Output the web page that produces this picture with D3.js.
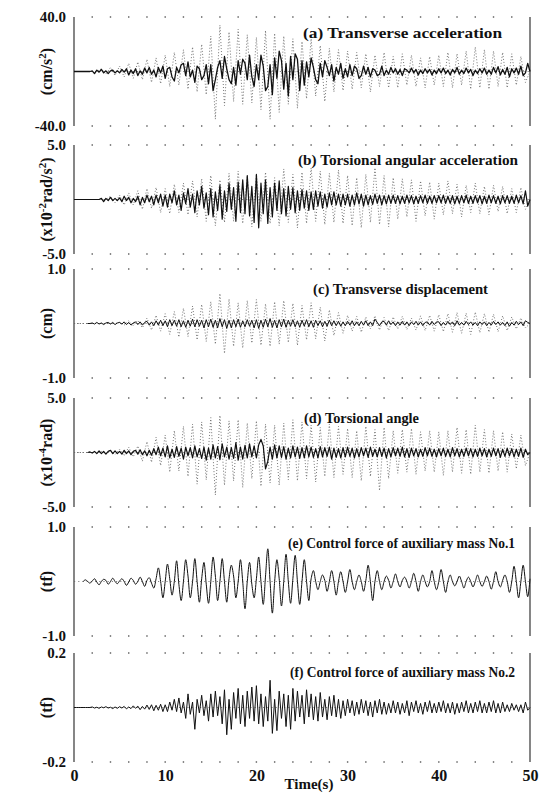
<!DOCTYPE html>
<html>
<head>
<meta charset="utf-8">
<script src="https://cdnjs.cloudflare.com/ajax/libs/d3/7.8.5/d3.min.js"></script>
<style>
body { margin: 0; background: #fff; }
svg text { font-family: "Liberation Serif", "DejaVu Serif", serif; font-weight: bold; fill: #111; }
</style>
</head>
<body>
<div id="chart"></div>
<script>
const SOLID_DT = 0.25;
const DOT_DT = 0.5;

const timeTicks = [0, 10, 20, 30, 40, 50];

// (a) transverse acceleration, cm/s^2 (solid = controlled, dotted = uncontrolled)
const aSolid = [
  0,0,0,0,0,0,0,0,0.5,-1.5,1,-0.5,1.5,-1,0.5,-1.5,0.5,1,-1,0.5,
  -1,1.5,-0.5,2,-2.5,1,-1.5,2,-3,0.5,-2,2.5,-1,3,-2,1,-4,3,-1,4,
  -5,2,3,-4,-7,3,-1,5,6,-3,7,-4,1,-8,4,2,-6,-3,5,-9,
  5,-14,-6,3,8,-5,11,2,-6,-9,3,-10,8,-2,9,6,-6,12,-4,-11,
  5,-6,12,4,-14,-11,5,-17,10,-5,15,8,-13,6,-18,11,-6,13,9,-14,
  8,-10,7,-4,10,3,-6,-9,6,-4,8,3,-3,5,-7,3,-2,6,-5,2,
  -4,5,-3,4,2,-5,-3,4,-2,3,-4,2,1,-3,-2,4,-3,1,-2,3,
  -1,2,-2,1.5,-3,2,1,-1,2.5,-1,1.5,-2.5,1,-1.5,2,-1,1.5,-2.5,1,-1.5,
  2,-1,2.5,-1.5,1,-2.5,1.5,-1,3,-2,1,-1.5,2.5,-1,1.5,-3,1,-1.5,2,-1,
  2.5,-2,1,-2,3,-1,3.5,-2.5,1.5,-2,3,-4,2,-1,2.5,-2,4,-3,-1,6,
  0
];
const aDot = [
  0,0,0,0,0,0,2,-2,3,-3,
  4,-4,6,-5,7,-6,9,-8,10,-9,
  12,-11,14,-10,16,-13,18,-15,20,-17,
  26,-35,34,-25,29,-22,31,-24,27,-23,
  25,-28,30,-35,28,-30,26,-24,24,-27,
  22,-20,24,-18,19,-22,17,-15,16,-14,
  15,-13,14,-12,13,-15,12,-11,14,-12,
  11,-12,13,-10,12,-11,10,-12,11,-10,
  12,-11,14,-12,13,-10,15,-13,18,-12,
  16,-13,15,-11,14,-12,13,-10,11,-8,
  0
];

// (b) torsional angular acceleration, x10^-2 rad/s^2
const bSolid = [
  0,0,0,0,0,0,0,0,0,0,0,0,0.1,-0.2,0.1,-0.1,0.2,-0.1,0.1,-0.1,
  0.15,-0.2,0.3,-0.1,0.2,-0.3,0.1,-0.2,0.3,-0.5,0.2,-0.3,0.4,-0.2,0.3,-0.5,0.4,-0.3,0.5,-0.6,
  0.4,-0.7,0.5,-0.3,0.8,-0.5,0.4,-1.0,0.6,-0.4,1.0,-0.7,0.5,-1.2,0.8,-0.5,1.2,-0.8,0.6,-1.4,
  1.0,-1.6,0.7,-1.0,1.3,-1.8,0.8,-1.1,1.5,-0.9,1.1,-2.0,1.6,-1.2,1.8,-1.3,2.2,-1.5,1.2,-2.1,
  2.3,-2.6,1.5,-1.3,1.8,-2.2,1.1,-1.6,1.5,-1.0,1.7,-1.3,1.0,-1.5,1.2,-0.9,1.1,-1.2,0.8,-1.0,
  0.9,-0.8,0.8,-1.0,0.7,-0.9,0.8,-0.6,0.7,-0.8,0.5,-0.7,0.6,-0.5,0.7,-0.5,0.5,-0.6,0.5,-0.5,
  0.5,-0.6,0.4,-0.5,0.6,-0.4,0.5,-0.6,0.4,-0.5,0.35,-0.45,0.5,-0.35,0.4,-0.5,0.35,-0.4,0.4,-0.35,
  0.4,-0.35,0.35,-0.4,0.3,-0.35,0.4,-0.3,0.35,-0.4,0.3,-0.35,0.35,-0.3,0.4,-0.35,0.3,-0.35,0.35,-0.3,
  0.35,-0.3,0.4,-0.35,0.3,-0.35,0.35,-0.4,0.3,-0.35,0.35,-0.3,0.4,-0.35,0.3,-0.35,0.35,-0.3,0.35,-0.4,
  0.3,-0.35,0.4,-0.3,0.35,-0.35,0.3,-0.4,0.35,-0.3,0.35,-0.35,0.3,-0.35,0.4,-0.3,0.35,-0.4,0.8,-0.6,
  0
];
const bDot = [
  0,0,0,0,0,0,0,0,0.3,-0.3,
  0.4,-0.5,0.6,-0.5,0.8,-0.9,1.0,-0.8,1.1,-1.2,
  1.0,-1.3,1.4,-1.2,1.5,-1.4,1.7,-1.6,1.9,-2.0,
  2.2,-2.4,1.8,-2.1,2.4,-2.0,2.6,-2.2,2.1,-2.5,
  2.3,-2.0,2.5,-2.2,2.0,-2.4,2.8,-2.1,2.3,-2.6,
  2.5,-2.2,2.9,-2.0,2.6,-2.3,2.4,-2.1,2.7,-2.2,
  2.2,-2.4,2.0,-2.6,2.3,-2.1,2.9,-2.3,2.2,-2.5,
  2.0,-1.8,1.9,-1.6,1.8,-2.0,1.7,-1.5,1.6,-1.8,
  1.5,-1.4,1.7,-1.3,1.4,-1.6,1.3,-1.2,1.5,-1.3,
  1.2,-1.4,1.3,-1.1,1.2,-1.3,1.0,-1.2,1.1,-0.9,
  0
];

// (c) transverse displacement, cm
const cSolid = [
  null,null,null,null,null,null,0,0,0.01,-0.01,0.02,-0.01,0.01,-0.02,0.01,0.02,-0.01,0.02,-0.02,0.01,
  0.02,-0.01,0.03,-0.02,0.02,-0.03,0.01,0.03,-0.02,0.03,-0.03,0.02,0.04,-0.03,0.03,-0.04,0.05,-0.03,0.06,-0.04,
  0.05,-0.06,0.07,-0.04,0.06,-0.05,0.07,-0.06,0.05,-0.07,0.06,-0.05,0.08,-0.06,0.07,-0.05,0.06,-0.08,0.07,-0.06,
  0.08,-0.07,0.06,-0.08,0.09,-0.06,0.07,-0.09,0.06,-0.08,0.07,-0.06,0.08,-0.07,0.05,-0.06,0.07,-0.05,0.06,-0.08,
  0.07,-0.09,0.06,-0.07,0.08,-0.06,0.09,-0.07,0.06,-0.08,0.07,-0.06,0.08,-0.07,0.06,-0.05,0.07,-0.06,0.05,-0.07,
  0.06,-0.05,0.07,-0.06,0.05,-0.07,0.06,-0.04,0.05,-0.06,0.04,-0.05,0.06,-0.04,0.05,-0.04,0.04,-0.05,0.03,-0.04,
  0.04,-0.03,0.05,-0.04,0.03,-0.04,0.04,-0.03,0.05,-0.04,0.03,-0.04,0.08,0.02,-0.04,0.03,0.04,-0.03,0.05,-0.02,
  0.03,-0.04,0.03,-0.03,0.04,-0.03,0.03,-0.04,0.03,-0.02,0.04,-0.03,0.03,-0.04,0.02,0.03,-0.03,0.04,-0.02,0.03,
  0.03,-0.04,0.02,-0.03,0.04,-0.02,0.03,-0.04,0.05,-0.03,0.02,-0.03,0.04,-0.02,0.03,-0.03,0.02,-0.04,0.03,-0.02,
  0.03,-0.04,0.02,-0.03,0.04,-0.02,0.03,-0.03,0.02,-0.04,0.03,-0.05,0.02,-0.03,0.04,-0.02,0.03,-0.04,0.05,0.02,
  0
];
const cDot = [
  0,0,0,0,0,0,0,0,0,0,
  0.02,-0.03,0.05,-0.04,0.06,-0.08,0.1,-0.12,0.15,-0.14,
  0.18,-0.2,0.22,-0.25,0.28,-0.24,0.32,-0.3,0.35,-0.33,
  0.4,-0.38,0.55,-0.55,0.45,-0.42,0.38,-0.45,0.42,-0.36,
  0.44,-0.4,0.36,-0.42,0.4,-0.38,0.42,-0.35,0.37,-0.4,
  0.33,-0.3,0.38,-0.28,0.3,-0.32,0.25,-0.22,0.2,-0.18,
  0.15,-0.14,0.13,-0.16,0.12,-0.1,0.14,-0.12,0.11,-0.13,
  0.12,-0.1,0.13,-0.11,0.1,-0.12,0.14,-0.13,0.15,-0.14,
  0.16,-0.15,0.18,-0.16,0.2,-0.18,0.19,-0.2,0.21,-0.17,
  0.18,-0.16,0.17,-0.15,0.14,-0.13,0.12,-0.1,0.1,-0.08,
  0
];

// (d) torsional angle, x10^-4 rad
const dSolid = [
  null,null,null,null,null,null,0,0.05,-0.05,0.1,-0.1,0.15,-0.1,0.1,-0.15,0.1,0.2,-0.1,0.15,-0.1,
  0.1,-0.15,0.2,-0.1,0.15,-0.2,0.1,0.2,-0.15,0.25,-0.2,0.15,-0.3,0.2,-0.25,0.35,-0.2,0.5,-0.3,0.4,
  -0.4,0.6,-0.5,0.3,-0.45,0.55,-0.35,0.4,-0.6,0.5,-0.3,0.45,-0.5,0.6,-0.4,0.35,-0.55,0.5,-0.7,0.4,
  -0.6,0.7,-0.5,0.55,-0.65,0.8,-0.4,0.5,-0.6,0.45,-0.55,0.9,-0.7,0.5,-0.6,0.65,-0.5,0.8,-0.4,0.6,
  -0.5,0.7,1.2,0.6,-1.5,-0.8,0.5,-0.6,0.7,-0.5,0.6,-0.45,0.55,-0.6,0.4,-0.5,0.6,-0.4,0.5,-0.55,
  0.45,-0.5,0.6,-0.4,0.5,-0.45,0.35,-0.5,0.55,-0.4,0.45,-0.35,0.5,-0.6,0.4,-0.45,0.35,-0.5,0.45,-0.4,
  0.5,-0.35,0.4,-0.5,0.35,-0.4,0.45,-0.3,0.4,-0.45,0.5,-0.35,0.3,-0.4,0.45,-0.35,0.4,-0.5,0.35,-0.4,
  0.45,-0.3,0.4,-0.35,0.5,-0.4,0.35,-0.45,0.4,-0.3,0.35,-0.4,0.3,-0.35,0.45,-0.3,0.4,-0.35,0.3,-0.4,
  0.35,-0.3,0.4,-0.35,0.3,-0.4,0.45,-0.3,0.35,-0.4,0.3,-0.35,0.4,-0.3,0.35,-0.4,0.3,-0.35,0.4,-0.3,
  0.35,-0.4,0.3,-0.35,0.4,-0.3,0.35,-0.45,0.3,-0.35,0.4,-0.3,0.35,-0.4,0.3,-0.35,0.4,-0.45,0.3,-0.2,
  0
];
const dDot = [
  0,0,0,0,0,0,0.1,-0.1,0.2,-0.2,
  0.3,-0.3,0.5,-0.4,0.6,-0.8,1.0,-0.9,1.4,-1.2,
  1.6,-1.8,2.0,-1.7,2.4,-2.2,2.6,-2.9,2.8,-2.5,
  3.2,-3.9,3.4,-3.0,2.9,-2.6,3.0,-3.2,2.7,-2.4,
  2.9,-3.1,2.6,-2.8,2.5,-3.0,2.7,-2.5,3.0,-2.6,
  2.8,-2.4,2.5,-2.7,2.3,-2.2,2.6,-2.3,2.4,-2.0,
  2.2,-2.3,2.0,-2.6,2.4,-2.2,2.1,-3.5,2.3,-2.4,
  2.0,-1.9,2.1,-1.8,2.2,-2.0,1.9,-1.7,2.0,-1.8,
  1.9,-2.1,2.0,-1.8,2.3,-1.9,2.1,-2.0,2.5,-1.8,
  2.1,-1.9,2.0,-1.7,1.9,-1.8,1.7,-1.5,1.6,-1.2,
  0
];

// (e) control force of auxiliary mass No.1, tf
const eSolid = [
  null,null,null,null,0,0.03,0,-0.03,0.01,0.05,-0.01,-0.06,0,0.04,0.02,-0.05,0,0.06,0,-0.04,
  0.01,0.05,0,-0.07,-0.01,0.06,0.02,-0.05,0,0.08,0,-0.09,0.02,0.07,-0.03,-0.12,0.05,0.25,0,-0.3,
  0,0.32,0.05,-0.25,0,0.38,-0.05,-0.35,0,0.4,0.1,-0.3,0,0.42,0,-0.38,0.05,0.35,-0.05,-0.4,
  0,0.45,0.1,-0.35,0,0.42,0,-0.38,0.05,0.3,0.1,-0.3,0,0.4,0,-0.5,0,0.35,-0.05,-0.3,
  0.05,0.45,0,-0.42,0.1,0.6,0,-0.58,0,0.4,0.05,-0.45,0,0.5,0,-0.4,0.05,0.48,0,-0.42,
  0,0.4,0,-0.35,0.05,0.2,0,-0.15,0,0.12,0.02,-0.18,0,0.2,0,-0.25,0,0.18,0,-0.2,
  0,0.22,0,-0.15,0,0.12,0,-0.18,0.02,0.3,0,-0.35,0,0.2,0,-0.15,0,0.1,0.02,-0.12,
  0,0.14,0,-0.1,0.02,0.08,0,-0.12,0,0.15,0,-0.18,0,0.12,0,-0.1,0,0.2,0,-0.15,
  0,0.22,0,-0.2,0,0.12,0,-0.08,0,0.1,0,-0.12,0,0.08,0,-0.1,0,0.12,0,-0.09,
  0,0.1,0,-0.14,0,0.18,0,-0.1,0.02,0.12,0,-0.2,0,0.28,0,-0.3,0,0.3,0,-0.28,
  0.05
];

// (f) control force of auxiliary mass No.2, tf
const fSolid = [
  0,0,0,0,0,0,0,0,0.002,-0.002,0.001,-0.003,0.002,-0.001,0.003,-0.002,0.001,-0.004,0.002,-0.003,
  0.003,-0.002,0.004,-0.005,0.002,-0.004,0.006,-0.003,0.005,-0.008,0.004,-0.006,0.009,-0.007,0.01,-0.012,0.008,-0.01,0.012,-0.015,
  0.01,-0.015,0.02,-0.01,0.03,-0.015,0.035,-0.02,0.02,-0.04,0.05,-0.025,0.02,-0.08,0.03,-0.02,0.045,-0.03,0.025,-0.05,
  0.05,-0.035,0.06,-0.03,0.04,-0.06,0.065,-0.1,0.03,-0.08,0.055,-0.04,0.07,-0.06,0.045,-0.07,0.06,-0.04,0.075,-0.05,
  0.08,-0.06,0.05,-0.07,0.04,-0.05,0.1,-0.095,0.03,-0.085,0.06,-0.04,0.05,-0.07,0.045,-0.08,0.07,-0.05,0.06,-0.035,
  0.045,-0.06,0.065,-0.035,0.05,-0.045,0.04,-0.05,0.055,-0.035,0.03,-0.045,0.04,-0.03,0.045,-0.035,0.03,-0.04,0.025,-0.03,
  0.03,-0.02,0.025,-0.03,0.02,-0.025,0.03,-0.02,0.025,-0.03,0.02,-0.035,0.025,-0.02,0.03,-0.025,0.02,-0.025,0.015,-0.02,
  0.025,-0.02,0.02,-0.025,0.015,-0.02,0.025,-0.03,0.02,-0.015,0.025,-0.02,0.015,-0.025,0.02,-0.015,0.025,-0.02,0.015,-0.02,
  0.02,-0.015,0.025,-0.02,0.015,-0.02,0.02,-0.025,0.015,-0.02,0.02,-0.015,0.025,-0.02,0.015,-0.02,0.02,-0.015,0.025,-0.02,
  0.015,-0.02,0.02,-0.015,0.025,-0.02,0.015,-0.02,0.02,-0.015,0.01,-0.015,0.015,-0.01,0.01,-0.015,0.01,-0.02,0.02,-0.01,
  0
];

const panelTitles = [
  "(a) Transverse acceleration",
  "(b) Torsional angular acceleration",
  "(c) Transverse displacement",
  "(d) Torsional angle",
  "(e) Control force of auxiliary mass No.1",
  "(f) Control force of auxiliary mass No.2"
];
// unit labels: [text, superscript?] pieces
const unitLabels = [
  [["(cm/s", false], ["2", true], [")", false]],
  [["(x10", false], ["-2", true], ["rad/s", false], ["2", true], [")", false]],
  [["(cm)", false]],
  [["(x10", false], ["-4", true], ["rad)", false]],
  [["(tf)", false]],
  [["(tf)", false]]
];
const yMax = [40, 5, 1, 5, 1, 0.2];
const yTickLabels = [["40.0", "-40.0"], ["5.0", "-5.0"], ["1.0", "-1.0"], ["5.0", "-5.0"], ["1.0", "-1.0"], ["0.2", "-0.2"]];
const solidSeries = [aSolid, bSolid, cSolid, dSolid, eSolid, fSolid];
const dottedSeries = [aDot, bDot, cDot, dDot, null, null];

// layout
const width = 540, height = 798;
const plotLeft = 74, plotRight = 530;
const panelTops = [17, 145, 269, 398, 527, 653];
const panelHeight = 109;
const titleX = [303, 298, 313, 304, 288, 290];
const titleLen = [199, 220, 175, 115, 227, 225];
const titleSize = [15.5, 14.5, 14, 14, 14, 14];
const titleDy = [21, 20, 25, 25, 21, 24];
const solidWidth = [1.3, 1.2, 1.0, 1.2, 1.0, 1.0];

const svg = d3.select("#chart").append("svg")
  .attr("width", width)
  .attr("height", height);

const x = d3.scaleLinear().domain([0, 50]).range([plotLeft, plotRight]);
const frameDots = d3.range(2, 50, 2);

function toPoints(values, dt) {
  return values.map((v, i) => ({t: i * dt, v: v}));
}

panelTitles.forEach((title, i) => {
  const top = panelTops[i];
  const bottom = top + panelHeight;
  const y = d3.scaleLinear().domain([-yMax[i], yMax[i]]).range([bottom, top]);
  const g = svg.append("g").attr("class", "panel");

  // frame: solid sides, dotted top and bottom
  [plotLeft, plotRight].forEach(px => {
    g.append("line")
      .attr("x1", px).attr("x2", px)
      .attr("y1", top).attr("y2", bottom)
      .attr("stroke", "#222").attr("stroke-width", 1.1);
  });
  [top, bottom].forEach(py => {
    g.selectAll(null).data(frameDots).enter().append("rect")
      .attr("x", d => x(d) - 0.7).attr("y", py - 0.7)
      .attr("width", 1.4).attr("height", 1.4)
      .attr("fill", "#555");
  });

  // zero reference
  g.append("line")
    .attr("x1", x(0)).attr("x2", x(50))
    .attr("y1", y(0)).attr("y2", y(0))
    .attr("stroke", "#666").attr("stroke-width", 0.8)
    .attr("stroke-dasharray", "1.2,3");

  const line = d3.line()
    .defined(d => d.v !== null)
    .x(d => x(d.t))
    .y(d => y(d.v));

  if (dottedSeries[i]) {
    g.append("path")
      .datum(toPoints(dottedSeries[i], DOT_DT))
      .attr("fill", "none")
      .attr("stroke", "#666")
      .attr("stroke-width", 0.9)
      .attr("stroke-dasharray", "1,2")
      .attr("d", line);
  }

  const solidLine = i === 4 ? line.curve(d3.curveCatmullRom) : line;
  g.append("path")
    .datum(toPoints(solidSeries[i], SOLID_DT))
    .attr("fill", "none")
    .attr("stroke", "#111")
    .attr("stroke-width", solidWidth[i])
    .attr("stroke-linejoin", "round")
    .attr("d", solidLine);

  // y limit labels
  g.append("text")
    .attr("x", plotLeft - 8).attr("y", top).attr("dy", "0.35em")
    .attr("text-anchor", "end").attr("font-size", 15)
    .text(yTickLabels[i][0]);
  g.append("text")
    .attr("x", plotLeft - 8).attr("y", bottom).attr("dy", "0.3em")
    .attr("text-anchor", "end").attr("font-size", 15)
    .text(yTickLabels[i][1]);

  // unit label
  const unit = g.append("text")
    .attr("transform", `translate(${46},${y(0)}) rotate(-90)`)
    .attr("text-anchor", "middle")
    .attr("dy", "0.35em")
    .attr("font-size", 16);
  unitLabels[i].forEach(([txt, sup]) => {
    unit.append("tspan")
      .attr("baseline-shift", sup ? "super" : null)
      .attr("font-size", sup ? 11 : null)
      .text(txt);
  });

  // panel title
  g.append("text")
    .attr("x", titleX[i]).attr("y", top + titleDy[i])
    .attr("font-size", titleSize[i])
    .attr("textLength", titleLen[i])
    .attr("lengthAdjust", "spacingAndGlyphs")
    .text(title);
});

// time axis under the last panel
const lastBottom = panelTops[5] + panelHeight;
const xAxis = svg.append("g")
  .attr("transform", `translate(0,${lastBottom})`)
  .call(d3.axisBottom(x).tickValues(timeTicks).tickSize(0).tickPadding(8).tickFormat(d3.format("d")));
xAxis.select(".domain").remove();
xAxis.selectAll("text")
  .attr("font-size", 16)
  .attr("font-family", "Liberation Serif, serif")
  .attr("font-weight", "bold")
  .attr("fill", "#111");

svg.append("text")
  .attr("x", 309).attr("y", 789)
  .attr("text-anchor", "middle")
  .attr("font-size", 15)
  .text("Time(s)");
</script>
</body>
</html>
